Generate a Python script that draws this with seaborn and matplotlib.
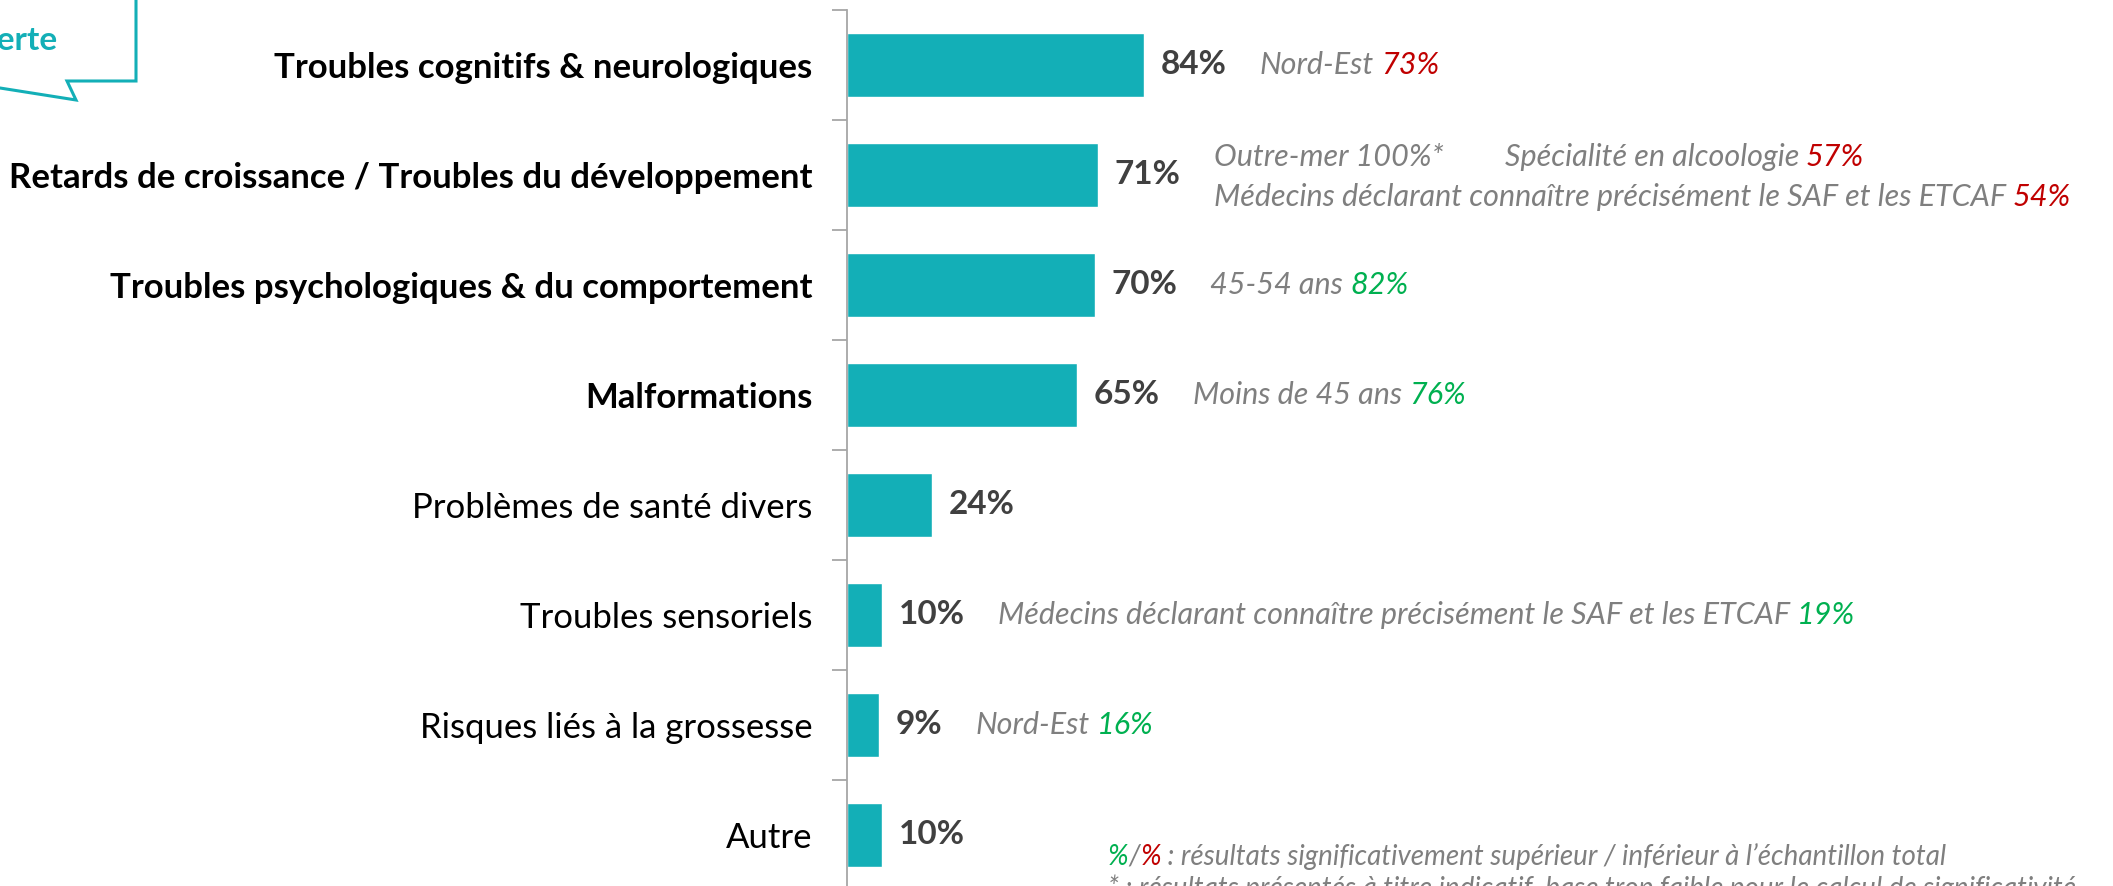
"""
Bar chart: consequences of prenatal alcohol exposure cited by doctors,
with sub-group call-outs next to each bar. Saved to out.png.
"""

import matplotlib
matplotlib.use("Agg")
import matplotlib.pyplot as plt
from matplotlib.lines import Line2D
import seaborn as sns

sns.set_theme(style="white")
plt.rcParams["font.family"] = ["Lato", "DejaVu Sans"]

# ---- data -------------------------------------------------------------
categories = [
    "Troubles cognitifs & neurologiques",
    "Retards de croissance / Troubles du développement",
    "Troubles psychologiques & du comportement",
    "Malformations",
    "Problèmes de santé divers",
    "Troubles sensoriels",
    "Risques liés à la grossesse",
    "Autre",
]
values = [84, 71, 70, 65, 24, 10, 9, 10]
bold_labels = [True, True, True, True, False, False, False, False]

GRAY = "#7f7f7f"
RED = "#c00000"
GREEN = "#00b050"

# sub-group call-outs: row index -> lines, each line a list of (text, colour)
notes = {
    0: [[("Nord-Est", GRAY), ("73%", RED)]],
    1: [[("Outre-mer 100%*", GRAY), ("Spécialité en alcoologie", GRAY), ("57%", RED)],
        [("Médecins déclarant connaître précisément le SAF et les ETCAF", GRAY), ("54%", RED)]],
    2: [[("45-54 ans", GRAY), ("82%", GREEN)]],
    3: [[("Moins de 45 ans", GRAY), ("76%", GREEN)]],
    5: [[("Médecins déclarant connaître précisément le SAF et les ETCAF", GRAY), ("19%", GREEN)]],
    6: [[("Nord-Est", GRAY), ("16%", GREEN)]],
}
legend_parts = [("%", GREEN), ("/", GRAY), ("%", RED),
                (" : résultats significativement supérieur / inférieur à l’échantillon total", GRAY)]
footnote = "* : résultats présentés à titre indicatif, base trop faible pour le calcul de significativité"
callout_text = "Question ouverte"

TEAL = "#13afb7"
AXIS_GRAY = "#a6a6a6"
W, H = 2113, 886

fig = plt.figure(figsize=(W / 100, H / 100), dpi=100)
ax = fig.add_axes([847 / W, -4 / H, 1 - 847 / W, 880 / H])

sns.barplot(x=values, y=categories, orient="h", color=TEAL, saturation=1,
            width=0.58, ax=ax)
ax.set_xlim(0, (W - 847) / 3.536)
ax.set_ylim(len(categories) - 0.5, -0.5)
ax.set_xlabel("")
ax.set_ylabel("")
ax.set_xticks([])

for side in ["top", "right", "bottom"]:
    ax.spines[side].set_visible(False)
ax.spines["left"].set_color(AXIS_GRAY)
ax.spines["left"].set_linewidth(1.3)

ax.set_yticks(range(len(categories)))
ax.set_yticks([i - 0.5 for i in range(len(categories) + 1)], minor=True)
ax.tick_params(axis="y", which="major", length=0, pad=25, labelsize=25, labelcolor="black")
ax.tick_params(axis="y", which="minor", length=11, width=1.3, color=AXIS_GRAY, direction="out", left=True)
for lab, b in zip(ax.get_yticklabels(), bold_labels):
    lab.set_fontweight("bold" if b else "normal")

# value labels and call-outs
NOTE_SIZE = 22
for i, v in enumerate(values):
    vt = ax.annotate(f"{v}%", xy=(v, i), xytext=(12, 0), textcoords="offset points",
                     ha="left", va="center", fontsize=24, fontweight="bold", color="#404040")
    lines = notes.get(i, [])
    offsets = [0] if len(lines) == 1 else [13, -16]
    for line, dy in zip(lines, offsets):
        prev = None
        for k, (txt, col) in enumerate(line):
            if prev is None:
                prev = ax.annotate(txt, xy=(1, 0.5), xycoords=vt, xytext=(24, dy),
                                   textcoords="offset points", ha="left", va="center",
                                   fontsize=NOTE_SIZE, fontstyle="italic", color=col)
            else:
                gap = 44 if line[k - 1][0].endswith("*") else 5
                prev = ax.annotate(txt, xy=(1, 0), xycoords=prev, xytext=(gap, 0),
                                   textcoords="offset points", ha="left", va="bottom",
                                   fontsize=NOTE_SIZE, fontstyle="italic", color=col)

# significance legend and footnote
FOOT_SIZE = 20
prev = None
for txt, col in legend_parts:
    if prev is None:
        prev = fig.text(1108 / W, 1 - 857 / H, txt, ha="left", va="center",
                        fontsize=FOOT_SIZE, fontstyle="italic", color=col)
    else:
        prev = ax.annotate(txt, xy=(1, 0), xycoords=prev, ha="left", va="bottom",
                           fontsize=FOOT_SIZE, fontstyle="italic", color=col,
                           annotation_clip=False)
fig.text(1108 / W, 1 - 874 / H, footnote, ha="left", va="top",
         fontsize=FOOT_SIZE, fontstyle="italic", color=GRAY)

# speech-bubble callout in the top-left corner
bubble_x = [136, 136, 67, 76, 0]
bubble_y = [0, 81, 81, 100, 88]
fig.add_artist(Line2D([x / W for x in bubble_x], [1 - y / H for y in bubble_y],
                      transform=fig.transFigure, color=TEAL, lw=2.2, solid_joinstyle="miter"))
fig.text(57 / W, 1 - 40 / H, callout_text, ha="right", va="center",
         fontsize=24, fontweight="bold", color=TEAL)

fig.savefig("out.png", dpi=100)
